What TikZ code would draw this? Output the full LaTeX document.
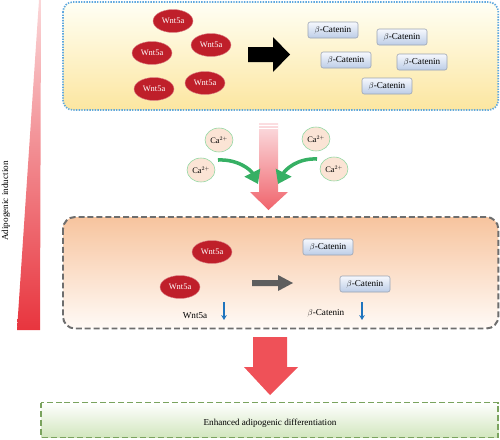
\documentclass[tikz,border=0pt]{standalone}
\usepackage{fontspec}
\setmainfont{Liberation Serif}
\usepackage{tikz}
\usetikzlibrary{shapes.geometric,arrows.meta}

\definecolor{wntred}{HTML}{BF1F2A}
\definecolor{catlight}{HTML}{F6F8FD}
\definecolor{catblue}{HTML}{BCCDE7}
\definecolor{catgray}{HTML}{9AA3B3}
\definecolor{capeach}{HTML}{FBE4D5}
\definecolor{cagreen}{HTML}{8ED7A0}
\definecolor{arrgreen}{HTML}{36B064}
\definecolor{downblue}{HTML}{1F74BE}
\definecolor{boxblue}{HTML}{5FA8DE}
\definecolor{boxgray}{HTML}{6E6E6E}
\definecolor{boxgreen}{HTML}{7AA35E}
\definecolor{indred}{HTML}{E8353E}
\definecolor{bigred}{HTML}{EF5158}

\tikzset{
  wnt/.style={ellipse, fill=wntred, draw=wntred!55, line width=0.6pt, text=white,
    minimum width=2cm, minimum height=1.15cm, inner sep=0pt,
    font=\fontsize{12}{14}\selectfont},
  cat/.style={rectangle, rounded corners=3pt, top color=catlight, bottom color=catblue,
    draw=catgray, line width=0.8pt, minimum width=2.5cm, minimum height=0.8cm,
    inner sep=0pt, font=\fontsize{13}{15}\selectfont},
  ca/.style={ellipse, fill=capeach, draw=cagreen, line width=0.8pt,
    minimum width=1.4cm, minimum height=1.2cm, inner sep=0pt,
    font=\fontsize{12}{14}\selectfont},
  lbl/.style={font=\fontsize{13}{15}\selectfont},
  downarr/.style={draw=downblue, line width=2pt, -{Stealth[length=7pt,width=8pt]}},
  greenarr/.style={draw=arrgreen, line width=5pt, -{Triangle[length=18pt,width=24pt]}}
}

\begin{document}
\begin{tikzpicture}[x=0.05cm,y=-0.05cm]
    \useasboundingbox (0,0) rectangle (500,439);

    % induction wedge
    \shade[top color=indred!20, bottom color=indred] (39,0)--(41,0)--(40,330)--(17,330)--cycle;
    \node[lbl, rotate=90] (induction) at (6,201) {Adipogenic induction};

    % top box
    \draw[boxblue, line width=2.4pt, dash pattern=on 2pt off 1.8pt, rounded corners=14pt,
      top color=yellow!4!white, bottom color={rgb,255:red,252;green,230;blue,160}]
      (63,2) rectangle (498.3,110);
    \node[wnt] (w1) at (173,21) {Wnt5a};
    \node[wnt] (w2) at (152,53) {Wnt5a};
    \node[wnt] (w3) at (211,45) {Wnt5a};
    \node[wnt] (w4) at (154,89) {Wnt5a};
    \node[wnt] (w5) at (205,83) {Wnt5a};
    \fill[black] (248,47)--(273,47)--(273,37)--(290,54.5)--(273,72)--(273,62)--(248,62)--cycle;
    \node[cat] (c1) at (333,30) {$\beta$-Catenin};
    \node[cat] (c2) at (402,37) {$\beta$-Catenin};
    \node[cat] (c3) at (346,60) {$\beta$-Catenin};
    \node[cat] (c4) at (422,62) {$\beta$-Catenin};
    \node[cat] (c5) at (387,86) {$\beta$-Catenin};

    % calcium and pink arrow
    \shade[top color={rgb,255:red,251;green,222;blue,225}, bottom color={rgb,255:red,240;green,100;blue,108}]
      (259,123)--(278,123)--(278,192)--(288,192)--(268.5,210)--(250,192)--(259,192)--cycle;
    \draw[white, line width=0.7pt] (259,125.5)--(278,125.5);
    \draw[white, line width=0.7pt] (259,128)--(278,128);
    \node[ca] (ca1) at (219,140) {Ca$^{2+}$};
    \node[ca] (ca2) at (201,170) {Ca$^{2+}$};
    \node[ca] (ca3) at (316,139) {Ca$^{2+}$};
    \node[ca] (ca4) at (334,169) {Ca$^{2+}$};
    \coordinate (gl) at (218,160);
    \coordinate (gr) at (317,159);
    \coordinate (gle) at (258,184);
    \coordinate (gre) at (278,184);
    \draw[greenarr] (gl) .. controls (238,159) and (251,170) .. (gle);
    \draw[greenarr] (gr) .. controls (297,158) and (285,170) .. (gre);

    % middle box
    \draw[boxgray, line width=2.8pt, dash pattern=on 8.5pt off 4.2pt, rounded corners=17pt,
      top color={rgb,255:red,247;green,196;blue,158}, bottom color={rgb,255:red,255;green,250;blue,246}]
      (63,217) rectangle (498.3,328.5);
    \node[wnt] (m1) at (212,252) {Wnt5a};
    \node[wnt] (m2) at (180,287) {Wnt5a};
    \node[lbl] (lblwnt) at (195,316) {Wnt5a};
    \coordinate (wa) at (224,302);
    \coordinate (wb) at (224,320);
    \draw[downarr] (wa)--(wb);
    \fill[boxgray!85!black] (252,280)--(278,280)--(278,275)--(293,283)--(278,291)--(278,286)--(252,286)--cycle;
    \node[cat] (m3) at (328,247) {$\beta$-Catenin};
    \node[cat] (m4) at (365,284) {$\beta$-Catenin};
    \node[lbl] (lblcat) at (326,313) {$\beta$-Catenin};
    \coordinate (ca) at (362,302);
    \coordinate (cb) at (362,320);
    \draw[downarr] (ca)--(cb);

    % big arrow and result
    \fill[bigred] (253,337)--(287,337)--(287,367)--(298,367)--(270,395)--(244,367)--(253,367)--cycle;
    \draw[boxgreen, line width=2.8pt, dash pattern=on 8.5pt off 4.2pt,
      top color=white, bottom color={rgb,255:red,210;green,230;blue,190}]
      (41,402.5) rectangle (498.3,437.5);
    \node[lbl] (result) at (270,423) {Enhanced adipogenic differentiation};
  \end{tikzpicture}
\end{document}
